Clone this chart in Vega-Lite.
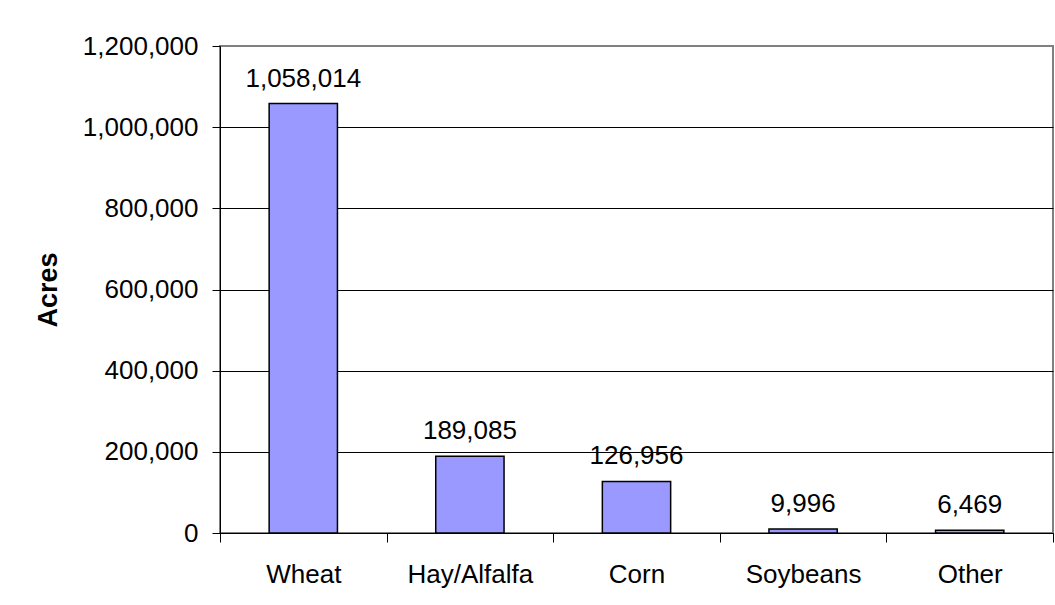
{
  "$schema": "https://vega.github.io/schema/vega-lite/v6.json",
  "width": 833,
  "height": 487,
  "autosize": {"type": "none"},
  "padding": {"left": 220, "top": 46, "right": 2, "bottom": 72},
  "background": "white",
  "config": {
    "view": {"stroke": "#808080", "strokeWidth": 2},
    "font": "Liberation Sans"
  },
  "data": {
    "values": [
      {"crop": "Wheat", "acres": 1058014},
      {"crop": "Hay/Alfalfa", "acres": 189085},
      {"crop": "Corn", "acres": 126956},
      {"crop": "Soybeans", "acres": 9996},
      {"crop": "Other", "acres": 6469}
    ]
  },
  "encoding": {
    "x": {
      "field": "crop",
      "type": "nominal",
      "sort": null,
      "scale": {"paddingInner": 0, "paddingOuter": 0},
      "axis": {
        "title": null,
        "labelAngle": 0,
        "labelFontSize": 26,
        "labelColor": "black",
        "labelPadding": 19,
        "tickBand": "extent",
        "tickSize": 9,
        "tickColor": "black",
        "domainColor": "black",
        "grid": false
      }
    },
    "y": {
      "field": "acres",
      "type": "quantitative",
      "scale": {"domain": [0, 1200000]},
      "axis": {
        "title": "Acres",
        "titleFontSize": 27,
        "titleFontWeight": "bold",
        "titleColor": "black",
        "titlePadding": 20,
        "values": [0, 200000, 400000, 600000, 800000, 1000000, 1200000],
        "format": ",.0f",
        "labelFontSize": 26,
        "labelColor": "black",
        "labelPadding": 14,
        "tickSize": 8,
        "tickColor": "black",
        "domainColor": "black",
        "gridColor": {"condition": {"test": "datum.value === 1200000", "value": "#808080"}, "value": "black"},
        "gridOpacity": 1,
        "labelOverlap": false
      }
    }
  },
  "layer": [
    {
      "mark": {"type": "bar", "width": {"band": 0.41}, "fill": "#9999FF", "stroke": "black", "strokeWidth": 1.5}
    },
    {
      "mark": {"type": "text", "dy": -17, "baseline": "alphabetic", "fontSize": 26, "color": "black"},
      "encoding": {"text": {"field": "acres", "type": "quantitative", "format": ",.0f"}}
    }
  ]
}
